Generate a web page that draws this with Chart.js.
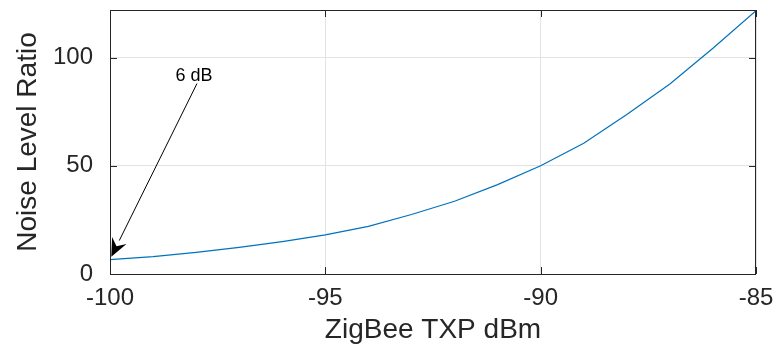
<!DOCTYPE html>
<html>
<head>
<meta charset="utf-8">
<script src="https://cdn.jsdelivr.net/npm/chart.js@4"></script>
<style>
  html, body { margin: 0; padding: 0; background: #fff; }
  #wrap { width: 774px; height: 351px; }
</style>
</head>
<body>
<div id="wrap"><canvas id="noiseChart"></canvas></div>
<script>
// ZigBee transmit power (dBm) vs noise level ratio
const txp = [-100, -99, -98, -97, -96, -95, -94, -93, -92, -91, -90, -89, -88, -87, -86, -85];
const noiseRatio = [6.6, 8.0, 10.0, 12.3, 15.0, 18.1, 22.0, 27.5, 33.6, 41.3, 50.0, 60.4, 73.7, 87.8, 104.3, 121.7];
const xTicks = [-100, -95, -90, -85];
const yTicks = [0, 50, 100];

// annotation "6 dB" (data coordinates)
const noteText = '6 dB';
const noteTail = [-97.98, 88];
const noteTip = [-99.97, 8];
const noteLabel = [-98.05, 91.5];

const ink = '#262626';
const fam = '"Liberation Sans", Arial, sans-serif';

// box, inward ticks and arrow annotation, drawn after the data
const boxPlugin = {
  id: 'box',
  afterDatasetsDraw(chart) {
    const ctx = chart.ctx;
    const a = chart.chartArea;
    const xs = chart.scales.x, ys = chart.scales.y;
    const tl = 7;
    ctx.save();
    ctx.strokeStyle = ink;
    ctx.lineWidth = 1;
    ctx.strokeRect(a.left + 0.5, a.top + 0.5, a.right - a.left - 1, a.bottom - a.top);
    ctx.beginPath();
    xTicks.forEach(v => {
      const px = Math.round(xs.getPixelForValue(v)) + 0.5;
      ctx.moveTo(px, a.bottom); ctx.lineTo(px, a.bottom - tl);
      ctx.moveTo(px, a.top); ctx.lineTo(px, a.top + tl);
    });
    yTicks.forEach(v => {
      const py = Math.round(ys.getPixelForValue(v)) + 0.5;
      ctx.moveTo(a.left, py); ctx.lineTo(a.left + tl, py);
      ctx.moveTo(a.right, py); ctx.lineTo(a.right - tl, py);
    });
    ctx.stroke();

    // arrow
    const x0 = xs.getPixelForValue(noteTail[0]), y0 = ys.getPixelForValue(noteTail[1]);
    const x1 = xs.getPixelForValue(noteTip[0]), y1 = ys.getPixelForValue(noteTip[1]);
    const ang = Math.atan2(y1 - y0, x1 - x0);
    const hl = 18, hw = 8;
    const bx = x1 - hl * Math.cos(ang), by = y1 - hl * Math.sin(ang);
    ctx.strokeStyle = '#000';
    ctx.beginPath();
    ctx.moveTo(x0, y0); ctx.lineTo(bx, by);
    ctx.stroke();
    ctx.fillStyle = '#000';
    ctx.beginPath();
    ctx.moveTo(x1, y1);
    ctx.lineTo(bx + hw * Math.sin(ang), by - hw * Math.cos(ang));
    ctx.lineTo(x1 - 0.65 * hl * Math.cos(ang), y1 - 0.65 * hl * Math.sin(ang));
    ctx.lineTo(bx - hw * Math.sin(ang), by + hw * Math.cos(ang));
    ctx.closePath();
    ctx.fill();

    ctx.font = '18px ' + fam;
    ctx.textAlign = 'center';
    ctx.textBaseline = 'middle';
    ctx.fillText(noteText, xs.getPixelForValue(noteLabel[0]), ys.getPixelForValue(noteLabel[1]));
    ctx.restore();
  }
};

const ctx = document.getElementById('noiseChart').getContext('2d');
const noiseChart = new Chart(ctx, {
  type: 'scatter',
  data: {
    datasets: [{
      label: 'Noise Level Ratio',
      data: txp.map((x, i) => ({ x: x, y: noiseRatio[i] })),
      showLine: true,
      borderColor: '#0072BD',
      borderWidth: 1.2,
      pointRadius: 0,
      fill: false,
      tension: 0
    }]
  },
  options: {
    responsive: true,
    maintainAspectRatio: false,
    animation: false,
    layout: { padding: { top: 10, right: 18, left: 0, bottom: 0 } },
    plugins: { legend: { display: false }, tooltip: { enabled: false } },
    scales: {
      x: {
        type: 'linear',
        min: -100,
        max: -85,
        afterBuildTicks: s => { s.ticks = xTicks.map(v => ({ value: v })); },
        afterFit: s => { s.height = 77; s.paddingLeft = 0; s.paddingRight = 0; },
        grid: { color: '#e3e3e3', drawTicks: false },
        border: { display: false },
        ticks: {
          padding: 10,
          color: ink,
          font: { family: fam, size: 24 }
        },
        title: {
          display: true,
          text: 'ZigBee TXP dBm',
          color: ink,
          padding: { top: 0 },
          font: { family: fam, size: 28 }
        }
      },
      y: {
        type: 'linear',
        min: 0,
        max: 122,
        afterBuildTicks: s => { s.ticks = yTicks.map(v => ({ value: v })); },
        afterFit: s => { s.width = 110; s.paddingTop = 0; s.paddingBottom = 0; },
        grid: { color: '#e3e3e3', drawTicks: false },
        border: { display: false },
        ticks: {
          padding: 17,
          color: ink,
          font: { family: fam, size: 24 }
        },
        title: {
          display: true,
          text: 'Noise Level Ratio',
          color: ink,
          padding: { top: 11, bottom: 4 },
          font: { family: fam, size: 28 }
        }
      }
    }
  },
  plugins: [boxPlugin]
});
</script>
</body>
</html>
